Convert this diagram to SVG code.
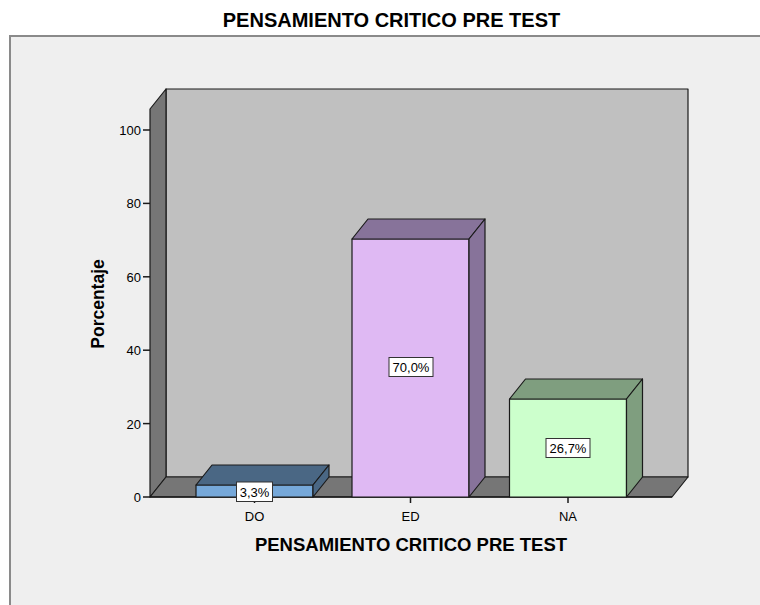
<svg xmlns="http://www.w3.org/2000/svg" width="760" height="605" viewBox="0 0 760 605">
<style>
text{font-family:"Liberation Sans",Arial,sans-serif;fill:#000}
.tl{font-size:13px;text-anchor:end}
.cl{font-size:13px;text-anchor:middle}
.ttl{font-size:20px;font-weight:bold;text-anchor:middle}
.ax{font-size:18.5px;font-weight:bold;text-anchor:middle}
.ln{stroke:#1a1a1a;stroke-width:1.2;stroke-linejoin:round}
.wall{fill:#c0c0c0}
.dk{fill:#767676}
.lab{fill:#fff;stroke:#333;stroke-width:1}
.vl{font-size:13px;text-anchor:middle}
.tk{stroke:#1a1a1a;stroke-width:1.5}
</style>
<rect x="0" y="0" width="760" height="605" fill="#fff"/>
<rect x="10" y="36" width="760" height="580" fill="#efefef" stroke="#8a8a8a" stroke-width="2"/>
<text class="ttl" x="391.5" y="26.5">PENSAMIENTO CRITICO PRE TEST</text>
<g id="walls">
<rect class="wall ln" x="166" y="89" width="522" height="388"/>
<polygon class="dk ln" points="150,109 166,89 166,477 150,497"/>
<polygon class="dk ln" points="150,497 166,477 688,477 672,497"/>
</g>
<g id="y-axis">
<g class="tk">
<line x1="143" y1="130" x2="150" y2="130"/>
<line x1="143" y1="203.4" x2="150" y2="203.4"/>
<line x1="143" y1="276.8" x2="150" y2="276.8"/>
<line x1="143" y1="350.2" x2="150" y2="350.2"/>
<line x1="143" y1="423.6" x2="150" y2="423.6"/>
<line x1="143" y1="497" x2="150" y2="497"/>
</g>
<text class="tl" x="141" y="135">100</text>
<text class="tl" x="141" y="208.4">80</text>
<text class="tl" x="141" y="281.8">60</text>
<text class="tl" x="141" y="355.2">40</text>
<text class="tl" x="141" y="428.6">20</text>
<text class="tl" x="141" y="502">0</text>
<text font-size="17.5" font-weight="bold" text-anchor="middle" transform="translate(104,304) rotate(-90)">Porcentaje</text>
</g>
<g id="x-axis">
<line class="tk" x1="150" y1="497" x2="672" y2="497"/>
<g class="tk">
<line x1="254.5" y1="497" x2="254.5" y2="503"/>
<line x1="410.5" y1="497" x2="410.5" y2="503"/>
<line x1="568" y1="497" x2="568" y2="503"/>
</g>
<text class="cl" x="254.5" y="520.5">DO</text>
<text class="cl" x="410.5" y="520.5">ED</text>
<text class="cl" x="568" y="520.5">NA</text>
<text class="ax" x="411" y="551">PENSAMIENTO CRITICO PRE TEST</text>
</g>
<g id="bar-DO">
<rect class="ln" x="196" y="485" width="117" height="12" fill="#76a8d9"/>
<polygon class="ln" points="196,485 212,465 329,465 313,485" fill="#4a6784"/>
<polygon class="ln" points="313,485 329,465 329,477 313,497" fill="#4a6784"/>
<rect class="lab" x="236.5" y="482" width="36" height="19.5"/>
<text class="vl" x="254.5" y="496.5">3,3%</text>
</g>
<g id="bar-ED">
<rect class="ln" x="352" y="239" width="117" height="258" fill="#dfb9f3"/>
<polygon class="ln" points="352,239 368,219 485,219 469,239" fill="#87739a"/>
<polygon class="ln" points="469,239 485,219 485,477 469,497" fill="#87739a"/>
<rect class="lab" x="389" y="357.5" width="44" height="19"/>
<text class="vl" x="411" y="371.5">70,0%</text>
</g>
<g id="bar-NA">
<rect class="ln" x="509.5" y="399" width="117" height="98" fill="#ccffcc"/>
<polygon class="ln" points="509.5,399 525.5,379 642.5,379 626.5,399" fill="#7f9e7f"/>
<polygon class="ln" points="626.5,399 642.5,379 642.5,477 626.5,497" fill="#7f9e7f"/>
<rect class="lab" x="546" y="438.5" width="44" height="19"/>
<text class="vl" x="568" y="452.5">26,7%</text>
</g>
</svg>
